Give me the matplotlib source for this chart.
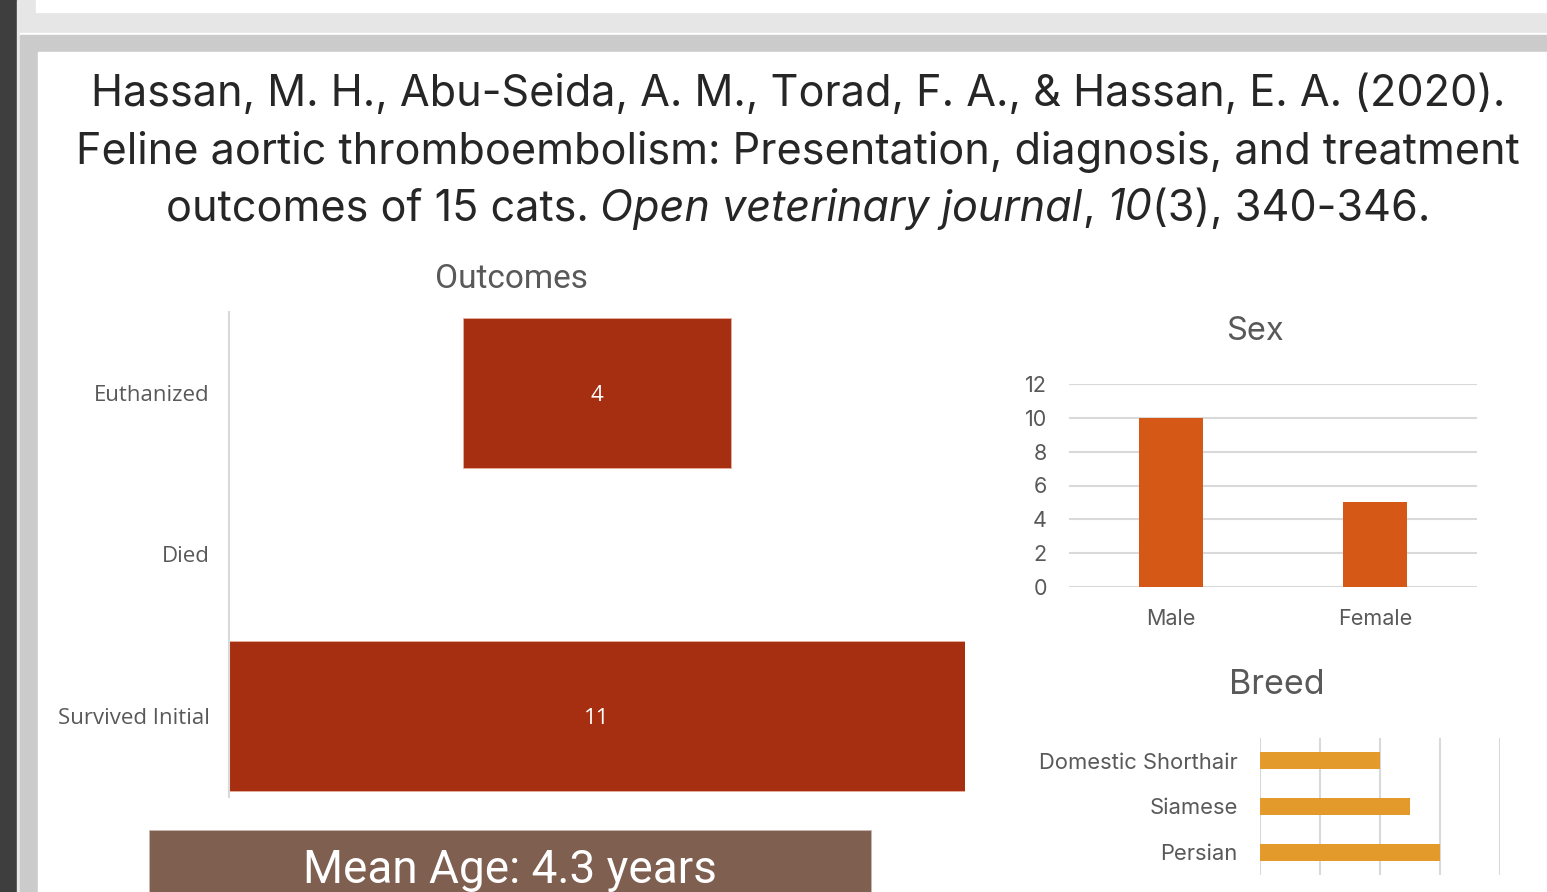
import matplotlib
matplotlib.use("Agg")
import matplotlib.pyplot as plt
from matplotlib.patches import Rectangle

# ── data ─────────────────────────────────────────────────────────────────────
outcome_labels = ["Euthanized", "Died", "Survived Initial"]
outcome_counts = [4, 0, 11]

sex_labels = ["Male", "Female"]
sex_counts = [10, 5]

breed_labels = ["Domestic Shorthair", "Siamese", "Persian"]
breed_counts = [4, 5, 6]

mean_age = 4.3

title_lines = [
    [("Hassan, M. H., Abu-Seida, A. M., Torad, F. A., & Hassan, E. A. (2020).", "normal")],
    [("Feline aortic thromboembolism: Presentation, diagnosis, and treatment", "normal")],
    [("outcomes of 15 cats. ", "normal"), ("Open veterinary journal", "italic"),
     (", ", "normal"), ("10", "italic"), ("(3), 340-346.", "normal")],
]

W, H = 1547, 892
fig = plt.figure(figsize=(W / 100, H / 100), dpi=100)
fig.patch.set_facecolor("white")


def px(x, y, w, h):
    # pixel box (top-left origin) -> figure fraction rect
    return [x / W, 1 - (y + h) / H, w / W, h / H]


# ── slide frame (screenshot chrome) ─────────────────────────────────────────
bg = fig.add_axes([0, 0, 1, 1])
bg.set_xlim(0, W)
bg.set_ylim(H, 0)
bg.axis("off")
bg.add_patch(Rectangle((0, 0), 17, H, color="#3e3e3e"))
bg.add_patch(Rectangle((17, 0), 3, H, color="#e8e8e8"))
bg.add_patch(Rectangle((20, 0), W - 20, 33, color="#e6e6e6"))
bg.add_patch(Rectangle((36, 0), W - 36, 12, color="white"))
bg.add_patch(Rectangle((20, 33), W - 20, 2, color="white"))
bg.add_patch(Rectangle((20, 35), W - 20, 17, color="#cbcbcb"))
bg.add_patch(Rectangle((20, 52), 18, H - 52, color="#cbcbcb"))
bg.add_patch(Rectangle((38, 52), W - 38, H - 52, color="white"))

# ── title with mixed italic pieces ──────────────────────────────────────────
renderer = fig.canvas.get_renderer()
line_y = [94, 152, 209]
for pieces, yc in zip(title_lines, line_y):
    texts = []
    for s, style in pieces:
        t = bg.text(0, yc, s, fontsize=31.1, family="Inter", style=style,
                    color="#262626", va="center", ha="left")
        texts.append(t)
    widths = [t.get_window_extent(renderer).width for t in texts]
    x = 798 - sum(widths) / 2
    for t, w in zip(texts, widths):
        t.set_x(x)
        x += w

# ── Outcomes funnel ─────────────────────────────────────────────────────────
ax1 = fig.add_axes(px(229, 312, 736, 485))
lefts = [-c / 2 for c in outcome_counts]
edge_w = [0.6 if c > 0 else 0 for c in outcome_counts]
bars = ax1.barh(range(len(outcome_labels)), outcome_counts, left=lefts,
                height=0.93, color="#a52f10", edgecolor="#e8b0a0", linewidth=edge_w)
for b, c in zip(bars, outcome_counts):
    if c > 0:
        ax1.text(0, b.get_y() + b.get_height() / 2, str(c), color="white",
                 ha="center", va="center_baseline", fontsize=16, family="Open Sans")
ax1.set_xlim(-5.5, 5.5)
ax1.set_ylim(2.5, -0.5)
ax1.set_yticks(range(len(outcome_labels)))
ax1.set_yticklabels(outcome_labels, fontsize=16, family="Open Sans", color="#595959",
                    va="center_baseline")
ax1.tick_params(axis="y", length=0, pad=14)
ax1.set_xticks([])
for s in ["top", "right", "bottom"]:
    ax1.spines[s].set_visible(False)
ax1.spines["left"].set_color("#d9d9d9")
ax1.spines["left"].set_linewidth(1.5)
ax1.patch.set_alpha(0)
bg.text(511, 279, "Outcomes", fontsize=24, family="Roboto", color="#595959",
        ha="center", va="center")

# ── Sex column chart ────────────────────────────────────────────────────────
ax2 = fig.add_axes(px(1069, 384, 408, 203))
ax2.bar(range(len(sex_labels)), sex_counts, width=0.31, color="#d55817", zorder=3)
ax2.set_xlim(-0.5, 1.5)
ax2.set_ylim(0, 12)
ax2.set_yticks(range(0, 13, 2))
ax2.set_xticks(range(len(sex_labels)))
ax2.set_xticklabels(sex_labels)
ax2.grid(axis="y", color="#d9d9d9", linewidth=1.5, zorder=0)
ax2.tick_params(length=0, labelsize=15.5, labelcolor="#595959")
ax2.tick_params(axis="y", pad=16)
ax2.tick_params(axis="x", pad=16)
for lab in ax2.get_xticklabels() + ax2.get_yticklabels():
    lab.set_family("Inter")
for s in ax2.spines.values():
    s.set_visible(False)
ax2.patch.set_alpha(0)
bg.text(1255, 331, "Sex", fontsize=23.5, family="Inter", color="#595959",
        ha="center", va="center")

# ── Breed bar chart ─────────────────────────────────────────────────────────
ax3 = fig.add_axes(px(1260, 738, 240, 137))
ax3.barh(range(len(breed_labels)), breed_counts, height=0.37, color="#e39a2a", zorder=3)
ax3.set_xlim(0, 8)
ax3.set_ylim(2.5, -0.5)
ax3.set_xticks(range(0, 9, 2))
ax3.set_xticklabels([])
ax3.set_yticks(range(len(breed_labels)))
ax3.set_yticklabels(breed_labels)
ax3.grid(axis="x", color="#d9d9d9", linewidth=1.5, zorder=0)
ax3.tick_params(length=0, labelsize=15.8, labelcolor="#595959")
ax3.tick_params(axis="y", pad=16)
for lab in ax3.get_yticklabels():
    lab.set_family("Inter")
for s in ax3.spines.values():
    s.set_visible(False)
ax3.patch.set_alpha(0)
bg.text(1277, 685, "Breed", fontsize=24.5, family="Inter", color="#595959",
        ha="center", va="center")

# ── Mean age box ────────────────────────────────────────────────────────────
bg.add_patch(Rectangle((149, 830), 722, 80, facecolor="#7f5f50",
                       edgecolor="#c8b8b0", linewidth=0.6))
bg.text(510, 870, f"Mean Age: {mean_age} years", fontsize=33, family="Roboto",
        color="white", ha="center", va="center")

fig.savefig("out.png", dpi=100)
